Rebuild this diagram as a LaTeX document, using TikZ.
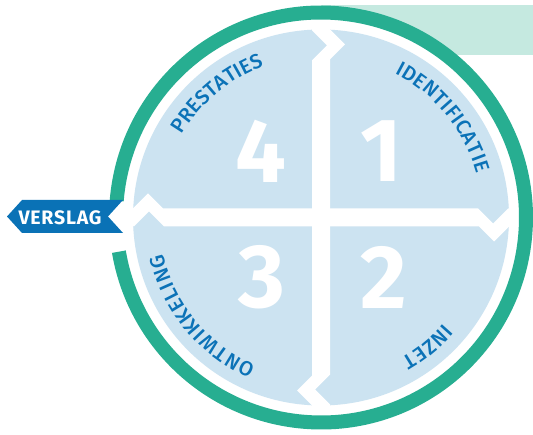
\documentclass[tikz,border=0pt]{standalone}
\usepackage{fontspec}
\setmainfont{Fira Sans}
\newfontfamily\lblfont{Fira Sans Medium}
\usetikzlibrary{decorations.text}
\definecolor{ringgreen}{HTML}{27AE91}
\definecolor{discblue}{HTML}{CCE3F1}
\definecolor{mint}{HTML}{C5E9E0}
\definecolor{textblue}{HTML}{0B72B7}
\definecolor{tagblue}{HTML}{0A72B6}
\newcommand\arclbl{\lblfont\fontsize{20.5}{24}\selectfont}
\begin{document}
\begin{tikzpicture}[x=1pt,y=1pt,
  arcLabel/.style={decorate,decoration={text along path,text={|\arclbl|#1},text align=fit to path,text color=textblue}},
  bignum/.style={font=\fontsize{90}{90}\selectfont\bfseries,text=white,inner sep=0pt,anchor=center},
  tagtext/.style={font=\fontsize{19.5}{22}\selectfont\bfseries\addfontfeature{LetterSpace=4},text=white,inner sep=0pt,anchor=center}
]
\useasboundingbox (0,0) rectangle (533,434);
\coordinate (c) at (321,216.5);
% mint tab behind the ring
\fill[mint] (321,379) rectangle (533,429);
\fill[white] (c) circle[radius=199];
% green ring with gap on the left
\draw[ringgreen,line width=14pt] (c) ++(175.3:205) arc[start angle=175.3,end angle=-170.4,radius=205];
% light blue disc
\fill[discblue] (c) circle[radius=188];
% white cross with chevron ends
\begin{scope}[shift={(c)}]
 \clip (0,0) circle[radius=189];
 \foreach \a in {0,-90,-180,-270}{
   \fill[white,rotate=\a] (-9,0) -- (-9,157) -- (6,172) -- (-9,187) -- (-9,200) -- (9,200) -- (9,188) -- (24,173) -- (9,158) -- (9,0) -- cycle;
 }
\end{scope}
% numbers
\node[bignum] (n4) at (260.5,283) {4};
\node[bignum] (n1) at (381,283) {1};
\node[bignum] (n3) at (262,156.5) {3};
\node[bignum] (n2) at (384,156.5) {2};
% arc labels
\path[arcLabel={PRESTATIES}] (c) ++(149.2:162) arc[start angle=149.2,end angle=110.8,radius=162];
\path[arcLabel={IDENTIFICATIE}] (c) ++(63:162) arc[start angle=63,end angle=15.8,radius=162];
\path[arcLabel={INZET}] (c) ++(-40.7:162) arc[start angle=-40.7,end angle=-60.2,radius=162];
\path[arcLabel={ONTWIKKELING}] (c) ++(-113.8:162) arc[start angle=-113.8,end angle=-167.2,radius=162];
% VERSLAG tag
\fill[tagblue] (7,217.5) -- (22,234) -- (123,234) -- (108,217.5) -- (123,201) -- (22,201) -- cycle;
\node[tagtext] (verslag) at (60,216.7) {VERSLAG};
\end{tikzpicture}
\end{document}
